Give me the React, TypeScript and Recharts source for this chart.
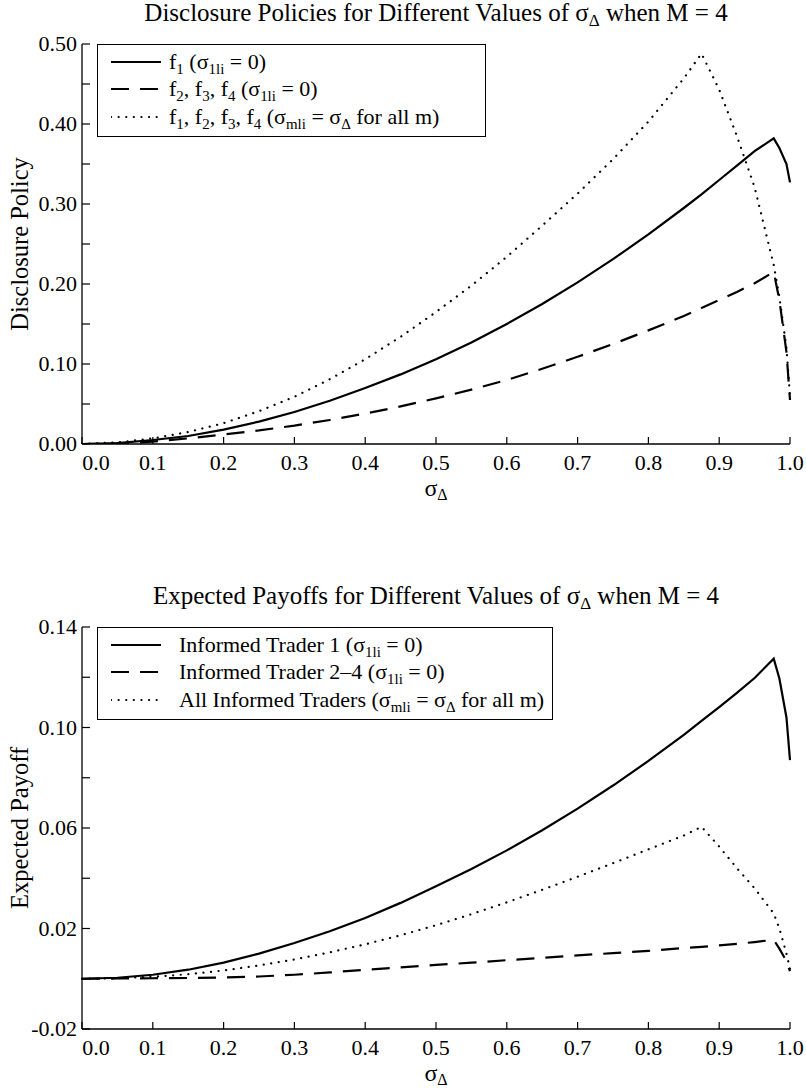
import { LineChart, Line, XAxis, YAxis, Legend } from 'recharts';

// sigma_delta grid (shared by every series)
const sigma = [0, 0.05, 0.1, 0.15, 0.2, 0.25, 0.3, 0.35, 0.4, 0.45, 0.5, 0.55, 0.6, 0.65, 0.7, 0.75, 0.8, 0.85, 0.875, 0.9, 0.925, 0.95, 0.977, 0.985, 0.995, 1.0];

// top panel: disclosure policies
const policyF1 = [0, 0.001, 0.005, 0.01, 0.018, 0.028, 0.04, 0.054, 0.07, 0.087, 0.106, 0.127, 0.15, 0.175, 0.202, 0.231, 0.262, 0.295, 0.312, 0.33, 0.348, 0.366, 0.382, 0.37, 0.35, 0.327];
const policyF234 = [0, 0.0005, 0.003, 0.007, 0.012, 0.017, 0.023, 0.03, 0.038, 0.047, 0.057, 0.068, 0.08, 0.094, 0.109, 0.125, 0.142, 0.16, 0.17, 0.18, 0.19, 0.201, 0.215, 0.18, 0.115, 0.055];
const policySym = [0, 0.002, 0.007, 0.015, 0.026, 0.041, 0.059, 0.081, 0.106, 0.134, 0.165, 0.198, 0.234, 0.273, 0.313, 0.356, 0.403, 0.457, 0.488, 0.443, 0.385, 0.321, 0.224, 0.184, 0.12, 0.06];

// bottom panel: expected payoffs
const payoffT1 = [0, 0.0004, 0.0016, 0.0036, 0.0064, 0.01, 0.0142, 0.0189, 0.0242, 0.0302, 0.0368, 0.0437, 0.0511, 0.0591, 0.0677, 0.0769, 0.0867, 0.0971, 0.1026, 0.1081, 0.1138, 0.1197, 0.1274, 0.1195, 0.104, 0.087];
const payoffT24 = [0, 0.0001, 0.0002, 0.0003, 0.0005, 0.0009, 0.0016, 0.0025, 0.0036, 0.0045, 0.0055, 0.0064, 0.0074, 0.0083, 0.0093, 0.0102, 0.0111, 0.0122, 0.0127, 0.0133, 0.0139, 0.0146, 0.0155, 0.012, 0.007, 0.003];
const payoffAll = [0, 0.0002, 0.0008, 0.0018, 0.0033, 0.0053, 0.0077, 0.0105, 0.0137, 0.0173, 0.0213, 0.0257, 0.0304, 0.0354, 0.0406, 0.046, 0.0515, 0.057, 0.0605, 0.0526, 0.044, 0.036, 0.026, 0.02, 0.01, 0.004];

const xTicks = [0, 0.1, 0.2, 0.3, 0.4, 0.5, 0.6, 0.7, 0.8, 0.9, 1.0];
const policyTicks = [0, 0.05, 0.1, 0.15, 0.2, 0.25, 0.3, 0.35, 0.4, 0.45, 0.5];
const policyLabels = [0, 0.1, 0.2, 0.3, 0.4, 0.5];
const payoffTicks = [-0.02, 0, 0.02, 0.04, 0.06, 0.08, 0.1, 0.12, 0.14];
const payoffLabels = [-0.02, 0.02, 0.06, 0.1, 0.14];

const policyData = sigma.map((s, i) => ({ s, a: policyF1[i], b: policyF234[i], c: policySym[i] }));
const payoffData = sigma.map((s, i) => ({ s, a: payoffT1[i], b: payoffT24[i], c: payoffAll[i] }));

const FONT = 'Liberation Serif, DejaVu Serif, serif';
const INK = '#000';
const TICK_FS = 22;

const seriesStyles = [
  { key: 'a', dash: undefined, cap: 'butt' },
  { key: 'b', dash: '18 11', cap: 'butt' },
  { key: 'c', dash: '0.1 7.5', cap: 'round' },
];

const Sub = ({ children }: any) => (
  <span style={{ fontSize: '0.68em', verticalAlign: '-0.32em', lineHeight: 0 }}>{children}</span>
);

const policyLegend = [
  <>f<Sub>1</Sub> (σ<Sub>1li</Sub> = 0)</>,
  <>f<Sub>2</Sub>, f<Sub>3</Sub>, f<Sub>4</Sub> (σ<Sub>1li</Sub> = 0)</>,
  <>f<Sub>1</Sub>, f<Sub>2</Sub>, f<Sub>3</Sub>, f<Sub>4</Sub> (σ<Sub>mli</Sub> = σ<Sub>Δ</Sub> for all m)</>,
];
const payoffLegend = [
  <>Informed Trader 1 (σ<Sub>1li</Sub> = 0)</>,
  <>Informed Trader 2–4 (σ<Sub>1li</Sub> = 0)</>,
  <>All Informed Traders (σ<Sub>mli</Sub> = σ<Sub>Δ</Sub> for all m)</>,
];

const BottomTick = (props: any) => {
  const { x, y, payload } = props;
  const v = payload.value;
  return (
    <g>
      <line x1={x} y1={y} x2={x} y2={y - 7} stroke={INK} strokeWidth={1.2} />
      <text x={v === 0 ? x + 14 : x} y={y + 26} textAnchor="middle" fontSize={TICK_FS} fontFamily={FONT} fill={INK}>
        {v.toFixed(1)}
      </text>
    </g>
  );
};

const TopTick = (props: any) => {
  const { x, y } = props;
  return <line x1={x} y1={y} x2={x} y2={y + 7} stroke={INK} strokeWidth={1.2} />;
};

const makeLeftTick = (labels: number[]) => (props: any) => {
  const { x, y, payload } = props;
  const v = payload.value;
  const show = labels.some((l) => Math.abs(l - v) < 1e-9);
  return (
    <g>
      <line x1={x} y1={y} x2={x + 8} y2={y} stroke={INK} strokeWidth={1.2} />
      {show && (
        <text x={x - 5} y={y + 7} textAnchor="end" fontSize={TICK_FS} fontFamily={FONT} fill={INK}>
          {v.toFixed(2)}
        </text>
      )}
    </g>
  );
};

const RightTick = (props: any) => {
  const { x, y } = props;
  return <line x1={x} y1={y} x2={x - 8} y2={y} stroke={INK} strokeWidth={1.2} />;
};

const XLab = (props: any) => {
  const { x, y, width } = props.viewBox;
  return (
    <text x={x + width / 2} y={y + 52} textAnchor="middle" fontSize={24} fontFamily={FONT} fill={INK}>
      <tspan>σ</tspan>
      <tspan fontSize={16} dy={4}>Δ</tspan>
    </text>
  );
};

const YLab = ({ text }: { text: string }) => (props: any) => {
  const { y, height } = props.viewBox;
  const cy = y + height / 2;
  return (
    <text x={19} y={cy} transform={`rotate(-90 19 ${cy})`} textAnchor="middle" dominantBaseline="central" fontSize={24.5} fontFamily={FONT} fill={INK}>
      {text}
    </text>
  );
};

const Panel = ({ top, plotHeight, title, yLabel, data, yDomain, yTicks, yLabels, legend, textGap, legendMin }: any) => {
  const height = 44 + plotHeight + 76;
  const LeftTick = makeLeftTick(yLabels);
  const YLabel = YLab({ text: yLabel });
  const renderLegend = () => (
    <div style={{ display: 'inline-block', minWidth: legendMin, boxSizing: 'border-box', border: `1.3px solid ${INK}`, background: '#fff', padding: '3px 8px 5px 0', fontFamily: FONT, fontSize: 22, color: INK }}>
      {seriesStyles.map((st, i) => (
        <div key={st.key} style={{ display: 'flex', alignItems: 'center', height: 27.5, whiteSpace: 'nowrap' }}>
          <svg width={50} height={10} style={{ marginLeft: 13, marginRight: textGap, flex: 'none' }}>
            <line x1={0} y1={5} x2={50} y2={5} stroke={INK} strokeWidth={2.2} strokeDasharray={st.dash} strokeLinecap={st.cap as any} />
          </svg>
          <span>{legend[i]}</span>
        </div>
      ))}
    </div>
  );
  return (
    <div style={{ position: 'absolute', left: 0, top, width: 806, height }}>
      <div style={{ position: 'absolute', left: 82, width: 708, top: -1, textAlign: 'center', fontFamily: FONT, fontSize: 25, lineHeight: '28px', color: INK, whiteSpace: 'nowrap' }}>
        {title}
      </div>
      <LineChart width={806} height={height} data={data} margin={{ top: 44, right: 16, bottom: 0, left: 0 }}>
        <XAxis xAxisId="b" dataKey="s" type="number" domain={[0, 1]} ticks={xTicks} orientation="bottom" height={76}
          tickLine={false} tickSize={0} tickMargin={0} tick={<BottomTick />} interval={0}
          axisLine={{ stroke: INK, strokeWidth: 1.3 }} label={<XLab />} />
        <XAxis xAxisId="t" dataKey="s" type="number" domain={[0, 1]} ticks={xTicks} orientation="top" height={0}
          tickLine={false} tickSize={0} tickMargin={0} tick={<TopTick />} interval={0}
          axisLine={{ stroke: INK, strokeWidth: 1.3 }} />
        <YAxis yAxisId="l" type="number" domain={yDomain} ticks={yTicks} width={82} allowDataOverflow
          tickLine={false} tickSize={0} tickMargin={0} tick={<LeftTick />} interval={0}
          axisLine={{ stroke: INK, strokeWidth: 1.3 }} label={<YLabel />} />
        <YAxis yAxisId="r" orientation="right" type="number" domain={yDomain} ticks={yTicks} width={0} allowDataOverflow
          tickLine={false} tickSize={0} tickMargin={0} tick={<RightTick />} interval={0}
          axisLine={{ stroke: INK, strokeWidth: 1.3 }} />
        {seriesStyles.map((st) => (
          <Line key={st.key} xAxisId="b" yAxisId="l" type="linear" dataKey={st.key} stroke={INK} strokeWidth={2.2}
            strokeDasharray={st.dash} strokeLinecap={st.cap as any} dot={false} activeDot={false} isAnimationActive={false} />
        ))}
        <Legend layout="vertical" align="center" verticalAlign="middle" content={renderLegend}
          wrapperStyle={{ left: 97, top: 44, width: 'auto', height: 'auto' }} />
      </LineChart>
    </div>
  );
};

export default function App() {
  return (
    <div style={{ position: 'absolute', left: 0, top: 0, width: 806, height: 1091, background: '#fff' }}>
      <Panel top={0} plotHeight={400} data={policyData} yDomain={[0, 0.5]} yTicks={policyTicks} yLabels={policyLabels}
        title={<>Disclosure Policies for Different Values of σ<Sub>Δ</Sub> when M = 4</>}
        yLabel="Disclosure Policy" legend={policyLegend} textGap={8} legendMin={389} />
      <Panel top={583} plotHeight={402} data={payoffData} yDomain={[-0.02, 0.14]} yTicks={payoffTicks} yLabels={payoffLabels}
        title={<>Expected Payoffs for Different Values of σ<Sub>Δ</Sub> when M = 4</>}
        yLabel="Expected Payoff" legend={payoffLegend} textGap={18} legendMin={0} />
    </div>
  );
}
